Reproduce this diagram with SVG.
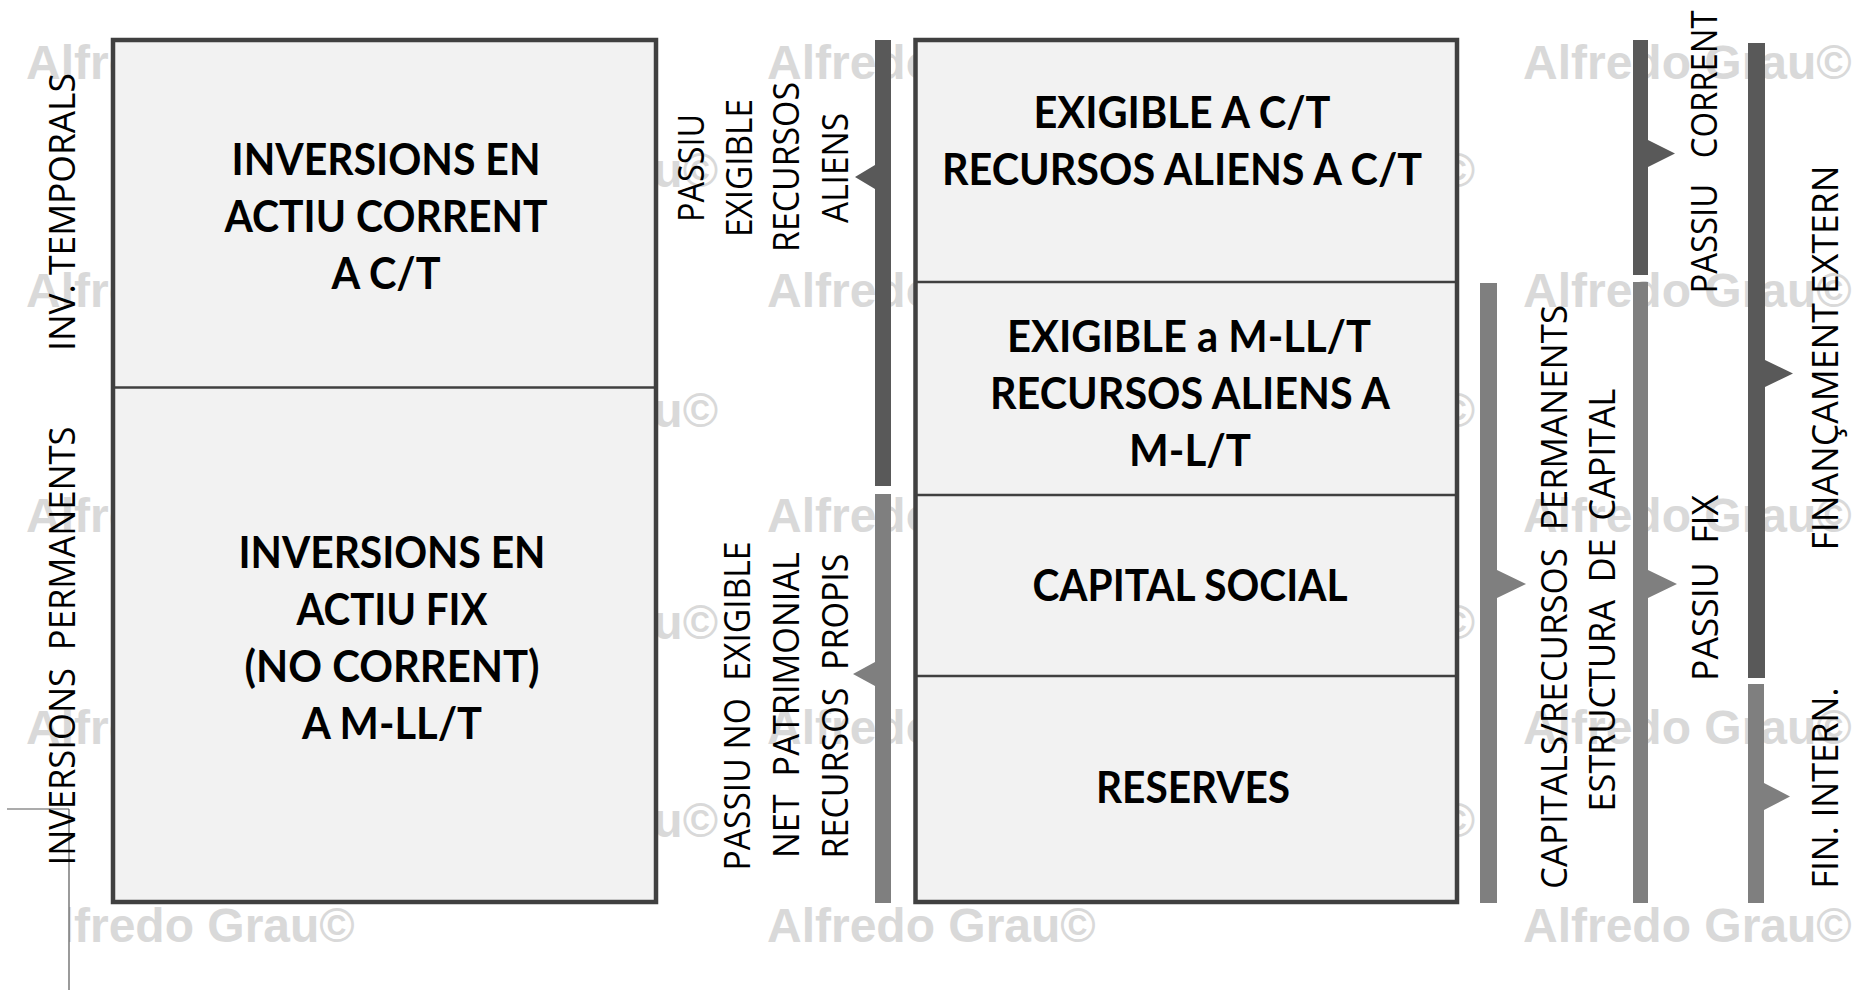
<svg xmlns="http://www.w3.org/2000/svg" width="1856" height="990" viewBox="0 0 1856 990">
  <style>
    .wm { font-family: "Liberation Sans", Arial, sans-serif; font-weight: bold; font-size: 48px; fill: #d9d9d9; }
    .wm-end { text-anchor: end; }
    .box { fill: #f2f2f2; stroke: #404040; stroke-width: 4.5; }
    .sep { stroke: #404040; stroke-width: 2.5; fill: none; }
    .bt { font-family: Lato, "Open Sans", sans-serif; font-weight: bold; font-size: 44px; fill: #000; text-anchor: middle; }
    .vt { font-family: "Open Sans", "Noto Sans", sans-serif; font-size: 36px; fill: #000; text-anchor: middle; white-space: pre; }
    .dark { fill: #595959; }
    .light { fill: #7f7f7f; }
    .thin { stroke: #595959; stroke-width: 1.2; fill: none; }
  </style>

  <rect width="1856" height="990" fill="#ffffff"/>

  <!-- copyright watermark -->
  <g id="watermark">
    <text class="wm" x="26" y="79">Alfredo Grau©</text>
    <text class="wm" x="26" y="307">Alfredo Grau©</text>
    <text class="wm" x="26" y="532">Alfredo Grau©</text>
    <text class="wm" x="26" y="744">Alfredo Grau©</text>
    <text class="wm" x="26" y="942">Alfredo Grau©</text>
    <text class="wm" x="767" y="79">Alfredo Grau©</text>
    <text class="wm" x="767" y="307">Alfredo Grau©</text>
    <text class="wm" x="767" y="532">Alfredo Grau©</text>
    <text class="wm" x="767" y="744">Alfredo Grau©</text>
    <text class="wm" x="767" y="942">Alfredo Grau©</text>
    <text class="wm" x="1523" y="79">Alfredo Grau©</text>
    <text class="wm" x="1523" y="307">Alfredo Grau©</text>
    <text class="wm" x="1523" y="532">Alfredo Grau©</text>
    <text class="wm" x="1523" y="744">Alfredo Grau©</text>
    <text class="wm" x="1523" y="942">Alfredo Grau©</text>
    <text class="wm wm-end" x="718" y="187">Alfredo Grau©</text>
    <text class="wm wm-end" x="718" y="427">Alfredo Grau©</text>
    <text class="wm wm-end" x="718" y="639">Alfredo Grau©</text>
    <text class="wm wm-end" x="718" y="837">Alfredo Grau©</text>
    <text class="wm wm-end" x="1475" y="187">Alfredo Grau©</text>
    <text class="wm wm-end" x="1475" y="427">Alfredo Grau©</text>
    <text class="wm wm-end" x="1475" y="639">Alfredo Grau©</text>
    <text class="wm wm-end" x="1475" y="837">Alfredo Grau©</text>
  </g>

  <!-- corner frame lines at bottom left -->
  <g id="frame">
    <rect x="0" y="809" width="69" height="181" fill="#ffffff"/>
    <path class="thin" d="M7 809 H69 M69 809 V990"/>
  </g>

  <!-- assets column -->
  <g id="actiu">
    <rect class="box" x="113" y="40" width="543" height="862"/>
    <line class="sep" x1="113" y1="387.5" x2="656" y2="387.5"/>
  </g>
  <g id="actiu-corrent">
    <text class="bt" x="386" y="175" textLength="309" lengthAdjust="spacingAndGlyphs">INVERSIONS EN</text>
    <text class="bt" x="386" y="232" textLength="323" lengthAdjust="spacingAndGlyphs">ACTIU CORRENT</text>
    <text class="bt" x="386" y="289" textLength="109" lengthAdjust="spacingAndGlyphs">A C/T</text>
  </g>
  <g id="actiu-fix">
    <text class="bt" x="392" y="568" textLength="307" lengthAdjust="spacingAndGlyphs">INVERSIONS EN</text>
    <text class="bt" x="392" y="625" textLength="191" lengthAdjust="spacingAndGlyphs">ACTIU FIX</text>
    <text class="bt" x="392" y="682" textLength="295" lengthAdjust="spacingAndGlyphs">(NO CORRENT)</text>
    <text class="bt" x="392" y="739" textLength="180" lengthAdjust="spacingAndGlyphs">A M-LL/T</text>
  </g>

  <!-- liabilities column -->
  <g id="passiu">
    <rect class="box" x="915.5" y="40" width="541.5" height="862"/>
    <line class="sep" x1="915.5" y1="282" x2="1457" y2="282"/>
    <line class="sep" x1="915.5" y1="495" x2="1457" y2="495"/>
    <line class="sep" x1="915.5" y1="676" x2="1457" y2="676"/>
  </g>
  <g id="exigible-ct">
    <text class="bt" x="1182" y="128" textLength="297" lengthAdjust="spacingAndGlyphs">EXIGIBLE A C/T</text>
    <text class="bt" x="1182" y="185" textLength="480" lengthAdjust="spacingAndGlyphs">RECURSOS ALIENS A C/T</text>
  </g>
  <g id="exigible-llt">
    <text class="bt" x="1189" y="352" textLength="364" lengthAdjust="spacingAndGlyphs">EXIGIBLE a M-LL/T</text>
    <text class="bt" x="1190" y="409" textLength="400" lengthAdjust="spacingAndGlyphs">RECURSOS ALIENS A</text>
    <text class="bt" x="1190" y="466" textLength="122" lengthAdjust="spacingAndGlyphs">M-L/T</text>
  </g>
  <g id="capital-social">
    <text class="bt" x="1190" y="601" textLength="315" lengthAdjust="spacingAndGlyphs">CAPITAL SOCIAL</text>
  </g>
  <g id="reserves">
    <text class="bt" x="1193" y="803" textLength="194" lengthAdjust="spacingAndGlyphs">RESERVES</text>
  </g>

  <!-- bracket bars with pointers -->
  <g id="connectors">
    <path class="dark" d="M875 40 H891 V486 H875 V189 L855 177 L875 165 Z"/>
    <path class="light" d="M875 494 H891 V903 H875 V686 L853 674 L875 662 Z"/>
    <path class="light" d="M1480 283 H1497 V570 L1526 584 L1497 598 V903 H1480 Z"/>
    <path class="dark" d="M1633 40 H1648 V140 L1675 153.5 L1648 167 V275 H1633 Z"/>
    <path class="light" d="M1633 282 H1648 V570 L1677 584 L1648 598 V903 H1633 Z"/>
    <path class="dark" d="M1748 43 H1765 V360 L1793 373.5 L1765 387 V678 H1748 Z"/>
    <path class="light" d="M1748 684 H1764 V783 L1790 796.5 L1764 810 V903 H1748 Z"/>
  </g>

  <!-- side labels -->
  <g id="label-inv-temporals">
    <text class="vt" transform="translate(75 212) rotate(-90)" textLength="278" lengthAdjust="spacingAndGlyphs">INV. TEMPORALS</text>
  </g>
  <g id="label-inv-permanents">
    <text class="vt" transform="translate(75 646) rotate(-90)" textLength="439" lengthAdjust="spacingAndGlyphs">INVERSIONS  PERMANENTS</text>
  </g>
  <g id="label-passiu-exigible">
    <text class="vt" transform="translate(704 168) rotate(-90)" textLength="108" lengthAdjust="spacingAndGlyphs">PASSIU</text>
    <text class="vt" transform="translate(752 168) rotate(-90)" textLength="138" lengthAdjust="spacingAndGlyphs">EXIGIBLE</text>
    <text class="vt" transform="translate(799 167) rotate(-90)" textLength="170" lengthAdjust="spacingAndGlyphs">RECURSOS</text>
    <text class="vt" transform="translate(848 168) rotate(-90)" textLength="110" lengthAdjust="spacingAndGlyphs">ALIENS</text>
  </g>
  <g id="label-passiu-no-exigible">
    <text class="vt" transform="translate(750 706) rotate(-90)" textLength="329" lengthAdjust="spacingAndGlyphs">PASSIU NO  EXIGIBLE</text>
    <text class="vt" transform="translate(799 705) rotate(-90)" textLength="306" lengthAdjust="spacingAndGlyphs">NET  PATRIMONIAL</text>
    <text class="vt" transform="translate(848 706) rotate(-90)" textLength="305" lengthAdjust="spacingAndGlyphs">RECURSOS  PROPIS</text>
  </g>
  <g id="label-capitals-permanents">
    <text class="vt" transform="translate(1567 597) rotate(-90)" textLength="584" lengthAdjust="spacingAndGlyphs">CAPITALS/RECURSOS  PERMANENTS</text>
    <text class="vt" transform="translate(1615 600) rotate(-90)" textLength="423" lengthAdjust="spacingAndGlyphs">ESTRUCTURA  DE  CAPITAL</text>
  </g>
  <g id="label-passiu-corrent">
    <text class="vt" transform="translate(1717 152) rotate(-90)" textLength="283" lengthAdjust="spacingAndGlyphs">PASSIU   CORRENT</text>
  </g>
  <g id="label-passiu-fix">
    <text class="vt" transform="translate(1718 588) rotate(-90)" textLength="186" lengthAdjust="spacingAndGlyphs">PASSIU  FIX</text>
  </g>
  <g id="label-financament-extern">
    <text class="vt" transform="translate(1838 358) rotate(-90)" textLength="385" lengthAdjust="spacingAndGlyphs">FINANÇAMENT EXTERN</text>
  </g>
  <g id="label-fin-intern">
    <text class="vt" transform="translate(1838 788) rotate(-90)" textLength="201" lengthAdjust="spacingAndGlyphs">FIN. INTERN.</text>
  </g>
</svg>
